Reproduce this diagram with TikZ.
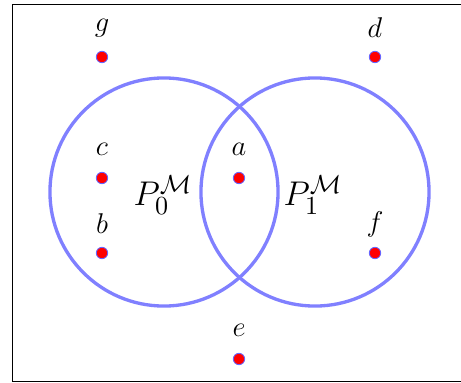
\documentclass[tikz,border=0pt]{standalone}
\begin{document}
\begin{tikzpicture}[x=0.42pt,y=0.42pt,
  setcircle/.style={draw=blue!50, line width=1.4pt},
  pt/.style={circle, fill=red, draw=blue!60, line width=0.35pt, inner sep=0pt, minimum size=4.8pt},
  lbl/.style={inner sep=0pt, font=\large},
  setlbl/.style={inner sep=0pt, font=\fontsize{15.8}{19}\selectfont}]
\useasboundingbox (0,0) rectangle (461,-383);
\draw[line width=0.6pt] (480,-4.5) -- (12.5,-4.5) -- (12.5,-381.5) -- (480,-381.5);
\node[draw=none] (C0) at (164,-192) {};
\node[draw=none] (C1) at (315,-192) {};
\draw[setcircle] (C0.center) circle[radius=47.9pt];
\draw[setcircle] (C1.center) circle[radius=47.9pt];
\node[setlbl] (P0) at (163,-195) {$P_0^{\mathcal{M}}$};
\node[setlbl] (P1) at (313,-195) {$P_1^{\mathcal{M}}$};
\node[pt] (g) at (102,-57) {};
\node[pt] (d) at (375,-57) {};
\node[pt] (c) at (102,-178) {};
\node[pt] (a) at (239,-178) {};
\node[pt] (b) at (102,-253) {};
\node[pt] (f) at (375,-253) {};
\node[pt] (e) at (239,-359) {};
\foreach \n in {g,d,c,a,b,f,e}{
  \node[lbl] (l\n) at ([yshift=29*0.42pt]\n.center) {$\n$};
}
\end{tikzpicture}
\end{document}
